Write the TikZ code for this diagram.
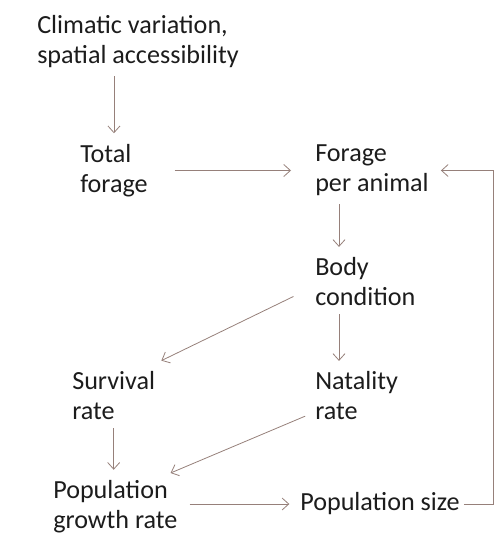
\documentclass[tikz,border=0pt]{standalone}
\usepackage{fontspec}
\setmainfont{Carlito}
\usepackage{xcolor}
\usepackage{tikz}
\usetikzlibrary{arrows.meta,positioning}
\definecolor{arrowcol}{RGB}{150,128,122}
\definecolor{textcol}{RGB}{28,28,28}

\begin{document}
\begin{tikzpicture}[
    x=0.75pt, y=-0.75pt,
    every node/.style={anchor=west, align=left, inner sep=0pt, text=textcol,
        font=\fontsize{19.6}{22.5}\selectfont},
    arr/.style={draw=arrowcol, line width=0.6pt, -{Straight Barb[length=5pt,width=9pt]}}
]
\useasboundingbox (0,0) rectangle (497,535);
\node (clim) at (37,42) {Climatic variation,\\spatial accessibility};
\node (total) at (80,170.5) {Total\\forage};
\node (forage) at (315,170.5) {Forage\\per animal};
\node (body) at (315,282) {Body\\condition};
\node (surv) at (72,396) {Survival\\rate};
\node (nat) at (315,396) {Natality\\rate};
\node (growth) at (53,507) {Population\\growth rate};
\node (size) at (300,504) {Population size};
\coordinate (fb) at (493,0);

\draw[arr, shorten <=6pt, shorten >=8pt] (clim.south -| total) -- (total.north);
\draw[arr, shorten <=20pt, shorten >=18pt] (total.east |- forage.west) -- (forage.west);
\draw[arr, shorten <=6pt, shorten >=8pt] ([xshift=18pt]forage.south west) -- ([xshift=18pt]body.north west);
\draw[arr, shorten <=18pt, shorten >=5pt] ([yshift=-3pt]body.west) -- ([yshift=6pt]surv.north east);
\draw[arr, shorten <=6pt, shorten >=8pt] ([xshift=18pt]body.south west) -- ([xshift=18pt]nat.north west);
\draw[arr, shorten <=6pt, shorten >=8pt] (surv.south) -- (surv.south |- growth.north);
\draw[arr, shorten <=8pt, shorten >=4pt] ([yshift=-12pt]nat.west) -- ([xshift=-9pt,yshift=4pt]growth.north east);
\draw[arr, shorten <=9pt, shorten >=8pt] (growth.east |- size.west) -- (size.west);
\draw[arr, shorten <=3pt, shorten >=9pt] (size.east) -- (size.east -| fb) |- (forage.east);
\end{tikzpicture}
\end{document}
